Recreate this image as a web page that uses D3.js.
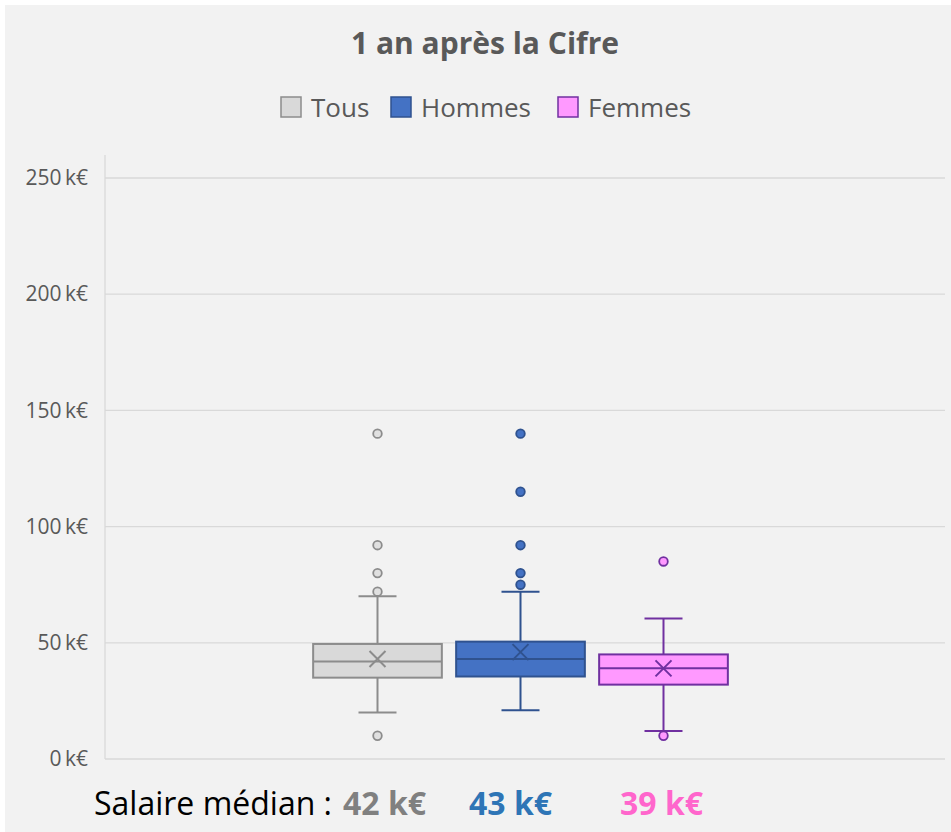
<!DOCTYPE html>
<html>
<head>
<meta charset="utf-8">
<script src="https://cdn.jsdelivr.net/npm/d3@7"></script>
<style>
  body { margin: 0; background: #fff; }
  svg { display: block; }
</style>
</head>
<body>
<div id="chart"></div>
<script>
// données (k€)
let categories = ['Tous', 'Hommes', 'Femmes']
let whiskerLow = [20, 21, 12]
let q1 = [35, 35.5, 32]
let medians = [42, 43, 39]
let q3 = [49.5, 50.5, 45]
let whiskerHigh = [70, 72, 60.5]
let means = [43, 46, 39]
let outliers = [
    [140, 92, 80, 72, 10],
    [140, 115, 92, 80, 75],
    [85, 10]
]
let yTicks = [0, 50, 100, 150, 200, 250]

let fills = ['#d9d9d9', '#4472c4', '#ff99ff']
let strokes = ['#8c8c8c', '#2f528f', '#7030a0']
let outlierFills = ['#e0e0e0', '#4472c4', '#ff99ff']
let labelColors = ['#808080', '#2e75b6', '#ff66cc']

let W = 951, H = 832
let svg = d3.select('#chart')
    .append('svg')
    .attr('width', W)
    .attr('height', H)

svg.append('rect')
    .attr('x', 5).attr('y', 5)
    .attr('width', W - 5).attr('height', H - 5)
    .attr('fill', '#f2f2f2')

let yScale = d3.scaleLinear()
    .domain([0, 250])
    .range([759, 178])

let xScale = d3.scaleBand()
    .domain(categories)
    .range([306, 735])
    .paddingInner(0.1)
    .paddingOuter(0.05)

// grille
svg.append('g')
    .selectAll('line')
    .data(yTicks.slice(1))
    .enter()
    .append('line')
    .attr('x1', 105).attr('x2', 945)
    .attr('y1', d => yScale(d)).attr('y2', d => yScale(d))
    .attr('stroke', '#d9d9d9')
    .attr('stroke-width', 1.3)

let yAxis = d3.axisLeft(yScale)
    .tickValues(yTicks)
    .tickSize(0)
    .tickPadding(17)
    .tickFormat(d => d + '\u2009k€')

let gy = svg.append('g')
    .attr('transform', 'translate(105,0)')
    .call(yAxis)
gy.select('.domain').remove()
gy.selectAll('text')
    .attr('fill', '#595959')
    .style('font-family', 'Open Sans, sans-serif')
    .style('font-size', '21px')

svg.append('line')
    .attr('x1', 105).attr('x2', 105)
    .attr('y1', 155).attr('y2', 759)
    .attr('stroke', '#d9d9d9').attr('stroke-width', 1.3)
svg.append('line')
    .attr('x1', 105).attr('x2', 945)
    .attr('y1', 759).attr('y2', 759)
    .attr('stroke', '#d9d9d9').attr('stroke-width', 1.3)

// boîtes
let boxes = svg.selectAll('.box')
    .data(categories)
    .enter()
    .append('g')
    .attr('class', 'box')

let bw = xScale.bandwidth()
let cx = c => xScale(c) + bw / 2
let capW = 19

boxes.append('line')
    .attr('x1', cx).attr('x2', cx)
    .attr('y1', (c, i) => yScale(whiskerHigh[i]))
    .attr('y2', (c, i) => yScale(q3[i]))
    .attr('stroke', (c, i) => strokes[i]).attr('stroke-width', 2)
boxes.append('line')
    .attr('x1', cx).attr('x2', cx)
    .attr('y1', (c, i) => yScale(q1[i]))
    .attr('y2', (c, i) => yScale(whiskerLow[i]))
    .attr('stroke', (c, i) => strokes[i]).attr('stroke-width', 2)
boxes.append('line')
    .attr('x1', c => cx(c) - capW).attr('x2', c => cx(c) + capW)
    .attr('y1', (c, i) => yScale(whiskerHigh[i]))
    .attr('y2', (c, i) => yScale(whiskerHigh[i]))
    .attr('stroke', (c, i) => strokes[i]).attr('stroke-width', 2)
boxes.append('line')
    .attr('x1', c => cx(c) - capW).attr('x2', c => cx(c) + capW)
    .attr('y1', (c, i) => yScale(whiskerLow[i]))
    .attr('y2', (c, i) => yScale(whiskerLow[i]))
    .attr('stroke', (c, i) => strokes[i]).attr('stroke-width', 2)

boxes.append('rect')
    .attr('x', c => xScale(c))
    .attr('width', bw)
    .attr('y', (c, i) => yScale(q3[i]))
    .attr('height', (c, i) => yScale(q1[i]) - yScale(q3[i]))
    .attr('fill', (c, i) => fills[i])
    .attr('stroke', (c, i) => strokes[i])
    .attr('stroke-width', 2)

boxes.append('line')
    .attr('x1', c => xScale(c)).attr('x2', c => xScale(c) + bw)
    .attr('y1', (c, i) => yScale(medians[i]))
    .attr('y2', (c, i) => yScale(medians[i]))
    .attr('stroke', (c, i) => strokes[i]).attr('stroke-width', 2)

// moyenne (croix)
let m = 8
boxes.append('path')
    .attr('d', (c, i) => {
        let x = cx(c), y = yScale(means[i])
        return `M${x - m},${y - m}L${x + m},${y + m}M${x - m},${y + m}L${x + m},${y - m}`
    })
    .attr('stroke', (c, i) => strokes[i]).attr('stroke-width', 2)

boxes.each(function (c, i) {
    d3.select(this).selectAll('circle')
        .data(outliers[i])
        .enter()
        .append('circle')
        .attr('cx', cx(c))
        .attr('cy', d => yScale(d))
        .attr('r', 4.3)
        .attr('fill', outlierFills[i])
        .attr('stroke', strokes[i])
        .attr('stroke-width', 1.8)
})

// titre
svg.append('text')
    .attr('x', 485).attr('y', 54)
    .attr('text-anchor', 'middle')
    .attr('fill', '#595959')
    .style('font-family', 'Open Sans, sans-serif')
    .style('font-weight', 'bold')
    .style('font-size', '30px')
    .text('1 an après la Cifre')

// légende
let legendX = [281, 391, 558]
let legend = svg.selectAll('.leg')
    .data(categories)
    .enter()
    .append('g')
    .attr('class', 'leg')
    .attr('transform', (c, i) => `translate(${legendX[i]},97)`)
legend.append('rect')
    .attr('width', 20).attr('height', 20)
    .attr('fill', (c, i) => fills[i])
    .attr('stroke', (c, i) => strokes[i])
    .attr('stroke-width', 1.5)
legend.append('text')
    .attr('x', 30).attr('y', 20)
    .attr('fill', '#595959')
    .style('font-family', 'Open Sans, sans-serif')
    .style('font-size', '26px')
    .text(c => c)

// salaires médians
svg.append('text')
    .attr('x', 94).attr('y', 815)
    .attr('fill', '#000')
    .style('font-family', 'Open Sans, sans-serif')
    .style('font-size', '32px')
    .text('Salaire médian : ')
let medX = [343, 469, 620]
categories.forEach((c, i) => {
    svg.append('text')
        .attr('x', medX[i]).attr('y', 815)
        .attr('fill', labelColors[i])
        .style('font-family', 'Open Sans, sans-serif')
        .style('font-weight', 'bold')
        .style('font-size', '32px')
        .text(medians[i] + ' k€')
})
</script>
</body>
</html>
